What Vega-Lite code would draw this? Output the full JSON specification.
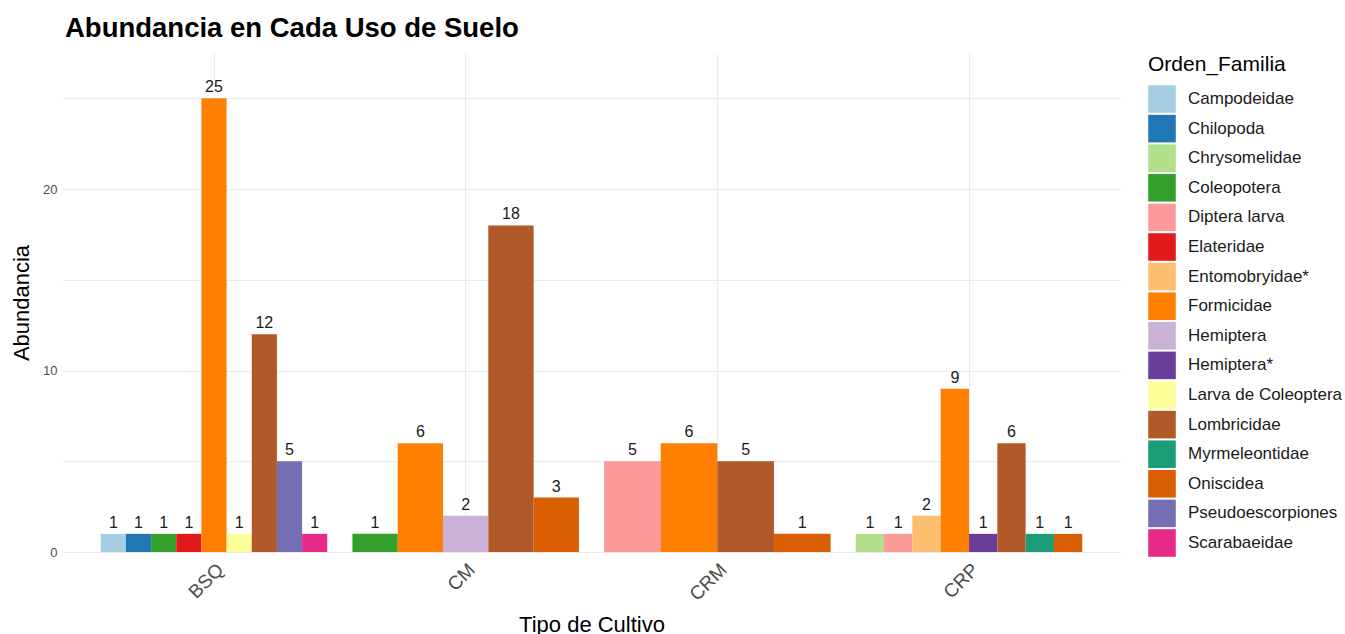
{
  "$schema": "https://vega.github.io/schema/vega-lite/v6.json",
  "width": 1057,
  "height": 499,
  "autosize": {"type": "none"},
  "padding": {"left": 63, "top": 53, "right": 225, "bottom": 82},
  "background": "white",
  "config": {
    "font": "Liberation Sans",
    "view": {"stroke": null},
    "axis": {"domain": false, "ticks": false, "gridColor": "#ebebeb", "gridWidth": 1}
  },
  "title": {
    "text": "Abundancia en Cada Uso de Suelo",
    "anchor": "start",
    "frame": "group",
    "fontSize": 27.5,
    "fontWeight": "bold",
    "color": "#000000",
    "baseline": "alphabetic",
    "offset": 15,
    "dx": 2,
    "dy": 26
  },
  "data": {
    "values": [
      {"Tipo": "BSQ", "Orden_Familia": "Campodeidae", "Abundancia": 1},
      {"Tipo": "BSQ", "Orden_Familia": "Chilopoda", "Abundancia": 1},
      {"Tipo": "BSQ", "Orden_Familia": "Coleopotera", "Abundancia": 1},
      {"Tipo": "BSQ", "Orden_Familia": "Elateridae", "Abundancia": 1},
      {"Tipo": "BSQ", "Orden_Familia": "Formicidae", "Abundancia": 25},
      {"Tipo": "BSQ", "Orden_Familia": "Larva de Coleoptera", "Abundancia": 1},
      {"Tipo": "BSQ", "Orden_Familia": "Lombricidae", "Abundancia": 12},
      {"Tipo": "BSQ", "Orden_Familia": "Pseudoescorpiones", "Abundancia": 5},
      {"Tipo": "BSQ", "Orden_Familia": "Scarabaeidae", "Abundancia": 1},
      {"Tipo": "CM", "Orden_Familia": "Coleopotera", "Abundancia": 1},
      {"Tipo": "CM", "Orden_Familia": "Formicidae", "Abundancia": 6},
      {"Tipo": "CM", "Orden_Familia": "Hemiptera", "Abundancia": 2},
      {"Tipo": "CM", "Orden_Familia": "Lombricidae", "Abundancia": 18},
      {"Tipo": "CM", "Orden_Familia": "Oniscidea", "Abundancia": 3},
      {"Tipo": "CRM", "Orden_Familia": "Diptera larva", "Abundancia": 5},
      {"Tipo": "CRM", "Orden_Familia": "Formicidae", "Abundancia": 6},
      {"Tipo": "CRM", "Orden_Familia": "Lombricidae", "Abundancia": 5},
      {"Tipo": "CRM", "Orden_Familia": "Oniscidea", "Abundancia": 1},
      {"Tipo": "CRP", "Orden_Familia": "Chrysomelidae", "Abundancia": 1},
      {"Tipo": "CRP", "Orden_Familia": "Diptera larva", "Abundancia": 1},
      {"Tipo": "CRP", "Orden_Familia": "Entomobryidae*", "Abundancia": 2},
      {"Tipo": "CRP", "Orden_Familia": "Formicidae", "Abundancia": 9},
      {"Tipo": "CRP", "Orden_Familia": "Hemiptera*", "Abundancia": 1},
      {"Tipo": "CRP", "Orden_Familia": "Lombricidae", "Abundancia": 6},
      {"Tipo": "CRP", "Orden_Familia": "Myrmeleontidae", "Abundancia": 1},
      {"Tipo": "CRP", "Orden_Familia": "Oniscidea", "Abundancia": 1}
    ]
  },
  "encoding": {
    "x": {
      "field": "Tipo",
      "type": "nominal",
      "scale": {"domain": ["BSQ", "CM", "CRM", "CRP"], "paddingInner": 0.1, "paddingOuter": 0.15},
      "axis": {
        "title": "Tipo de Cultivo",
        "titleFontSize": 22,
        "titleFontWeight": "normal",
        "titleColor": "#000000",
        "titleBaseline": "alphabetic",
        "titleY": 79,
        "labelAngle": -45,
        "labelAlign": "right",
        "labelBaseline": "top",
        "labelFontSize": 19,
        "labelColor": "#4d4d4d",
        "labelPadding": 8,
        "grid": true,
        "bandPosition": 0.5
      }
    },
    "y": {
      "field": "Abundancia",
      "type": "quantitative",
      "scale": {"domain": [0, 27.5], "nice": false},
      "axis": {
        "title": "Abundancia",
        "titleFontSize": 22,
        "titleFontWeight": "normal",
        "titleColor": "#000000",
        "titleBaseline": "alphabetic",
        "titleX": -35,
        "titleY": 249.5,
        "values": [0, 5, 10, 15, 20, 25],
        "labelExpr": "datum.value % 10 === 0 ? datum.label : ''",
        "labelFontSize": 13,
        "labelColor": "#4d4d4d",
        "labelPadding": 6,
        "grid": true
      }
    },
    "color": {
      "field": "Orden_Familia",
      "type": "nominal",
      "scale": {
        "domain": ["Campodeidae", "Chilopoda", "Chrysomelidae", "Coleopotera", "Diptera larva", "Elateridae", "Entomobryidae*", "Formicidae", "Hemiptera", "Hemiptera*", "Larva de Coleoptera", "Lombricidae", "Myrmeleontidae", "Oniscidea", "Pseudoescorpiones", "Scarabaeidae"],
        "range": ["#a6cee3", "#1f78b4", "#b2df8a", "#33a02c", "#fb9a99", "#e31a1c", "#fdbf6f", "#ff7f00", "#cab2d6", "#6a3d9a", "#ffff99", "#b15928", "#1b9e77", "#d95f02", "#7570b3", "#e7298a"]
      },
      "legend": {
        "title": "Orden_Familia",
        "orient": "none",
        "legendX": 1085,
        "legendY": 1,
        "titleFontSize": 21,
        "titleFontWeight": "normal",
        "titleColor": "#000000",
        "titlePadding": 10,
        "labelFontSize": 17,
        "labelColor": "#1a1a1a",
        "labelOffset": 12,
        "symbolType": "square",
        "symbolSize": 760,
        "symbolStrokeWidth": 0,
        "symbolOpacity": 1,
        "rowPadding": 1.6
      }
    }
  },
  "layer": [
    {
      "transform": [{"filter": "datum.Tipo === 'BSQ'"}],
      "encoding": {"xOffset": {"field": "Orden_Familia", "type": "nominal", "scale": {"paddingInner": 0, "paddingOuter": 0}}},
      "layer": [
        {"mark": {"type": "bar"}},
        {"mark": {"type": "text", "baseline": "bottom", "dy": -3, "fontSize": 16}, "encoding": {"text": {"field": "Abundancia", "type": "quantitative"}, "color": {"value": "#1a1a1a"}}}
      ]
    },
    {
      "transform": [{"filter": "datum.Tipo === 'CM'"}],
      "encoding": {"xOffset": {"field": "Orden_Familia", "type": "nominal", "scale": {"paddingInner": 0, "paddingOuter": 0}}},
      "layer": [
        {"mark": {"type": "bar"}},
        {"mark": {"type": "text", "baseline": "bottom", "dy": -3, "fontSize": 16}, "encoding": {"text": {"field": "Abundancia", "type": "quantitative"}, "color": {"value": "#1a1a1a"}}}
      ]
    },
    {
      "transform": [{"filter": "datum.Tipo === 'CRM'"}],
      "encoding": {"xOffset": {"field": "Orden_Familia", "type": "nominal", "scale": {"paddingInner": 0, "paddingOuter": 0}}},
      "layer": [
        {"mark": {"type": "bar"}},
        {"mark": {"type": "text", "baseline": "bottom", "dy": -3, "fontSize": 16}, "encoding": {"text": {"field": "Abundancia", "type": "quantitative"}, "color": {"value": "#1a1a1a"}}}
      ]
    },
    {
      "transform": [{"filter": "datum.Tipo === 'CRP'"}],
      "encoding": {"xOffset": {"field": "Orden_Familia", "type": "nominal", "scale": {"paddingInner": 0, "paddingOuter": 0}}},
      "layer": [
        {"mark": {"type": "bar"}},
        {"mark": {"type": "text", "baseline": "bottom", "dy": -3, "fontSize": 16}, "encoding": {"text": {"field": "Abundancia", "type": "quantitative"}, "color": {"value": "#1a1a1a"}}}
      ]
    }
  ],
  "resolve": {"scale": {"xOffset": "independent"}}
}
